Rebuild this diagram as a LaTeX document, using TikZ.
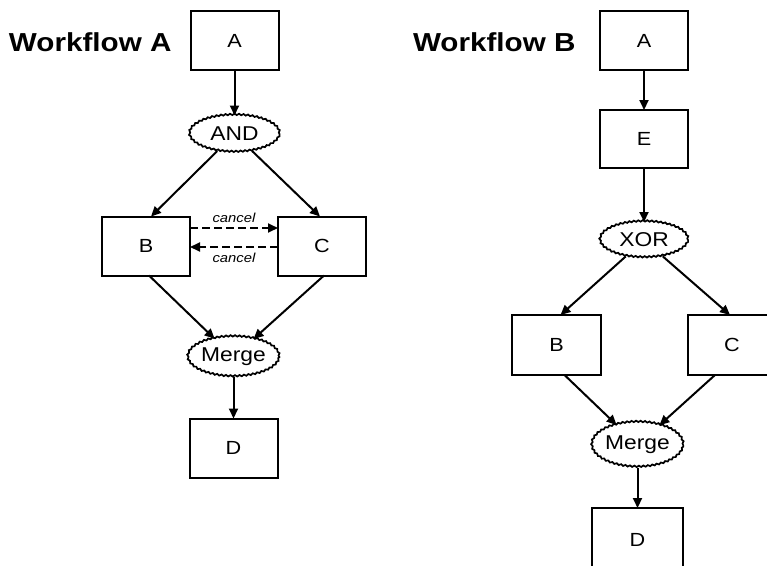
\documentclass[tikz,border=0pt]{standalone}
\usepackage{fontspec}
\setmainfont{Liberation Sans}
\newfontfamily\widesans[FakeStretch=1.14]{Liberation Sans}
\usetikzlibrary{shapes.geometric,arrows.meta,decorations.pathmorphing}

\begin{document}
\begin{tikzpicture}[x=1pt,y=-1pt,
    every node/.style={inner sep=0pt,outer sep=0pt},
    task/.style={draw,line width=2pt,rectangle,minimum width=88pt,minimum height=59pt,
                 font=\widesans\fontsize{19}{22}\selectfont},
    gate/.style={draw,line width=1.7pt,ellipse,minimum width=90pt,minimum height=37pt,
                 font=\widesans\fontsize{20}{22}\selectfont,
                 decorate,decoration={snake,segment length=4.5pt,amplitude=0.7pt}},
    title/.style={font=\widesans\fontsize{26}{30}\selectfont\bfseries,anchor=west},
    flow/.style={line width=2pt,-{Triangle[length=10pt,width=9pt]}},
    cancelflow/.style={line width=1.8pt,dash pattern=on 8pt off 4pt,-{Triangle[length=10pt,width=9pt]}},
    cancellabel/.style={font=\widesans\fontsize{13}{15}\selectfont\itshape}]

  \useasboundingbox (0,0) rectangle (767,565);
  \clip (0,0) rectangle (767,565);

  % ---------------- Workflow A ----------------
  \node[title] (titleA) at (9,42) {Workflow A};
  \node[task] (aA) at (234.5,40.5) {A};
  \node[gate] (andA) at (234.5,134) {AND};
  \node[task] (bA) at (146,246) {B};
  \node[task] (cA) at (322,246) {C};
  \node[gate,minimum height=40pt] (mergeA) at (233.5,357) {Merge};
  \node[task] (dA) at (233.5,448) {D};

  \draw[flow] (aA) -- (andA);
  \draw[flow] (andA) -- ([xshift=5pt]bA.north);
  \draw[flow] (andA) -- ([xshift=-2pt]cA.north);
  \draw[flow] ([xshift=3pt]bA.south) -- (mergeA);
  \draw[flow] ([xshift=2pt]cA.south) -- (mergeA);
  \draw[flow] (mergeA) -- (dA);

  \draw[cancelflow] ([yshift=18pt]bA.east) -- ([yshift=18pt]cA.west)
    node[cancellabel,midway,above=5pt] (cancelBC) {cancel};
  \draw[cancelflow] ([yshift=-1pt]cA.west) -- ([yshift=-1pt]bA.east)
    node[cancellabel,midway,below=6pt] (cancelCB) {cancel};

  % ---------------- Workflow B ----------------
  \node[title] (titleB) at (413,42) {Workflow B};
  \node[task] (aB) at (644,40.5) {A};
  \node[task,minimum height=58pt] (eB) at (644,139) {E};
  \node[gate,minimum width=88pt,minimum height=36pt] (xorB) at (644,240) {XOR};
  \node[task,minimum width=89pt,minimum height=60pt] (bB) at (556.5,345) {B};
  \node[task,minimum height=60pt] (cB) at (732,345) {C};
  \node[gate,minimum width=91pt,minimum height=45pt] (mergeB) at (637.5,445) {Merge};
  \node[task,minimum width=91pt,minimum height=64pt] (dB) at (637.5,540) {D};

  \draw[flow] (aB) -- (eB);
  \draw[flow] (eB) -- (xorB);
  \draw[flow] (xorB) -- ([xshift=4pt]bB.north);
  \draw[flow] (xorB) -- ([xshift=-2pt]cB.north);
  \draw[flow] ([xshift=8pt]bB.south) -- (mergeB);
  \draw[flow] ([xshift=-17pt]cB.south) -- (mergeB);
  \draw[flow] (mergeB) -- (dB);
\end{tikzpicture}
\end{document}
